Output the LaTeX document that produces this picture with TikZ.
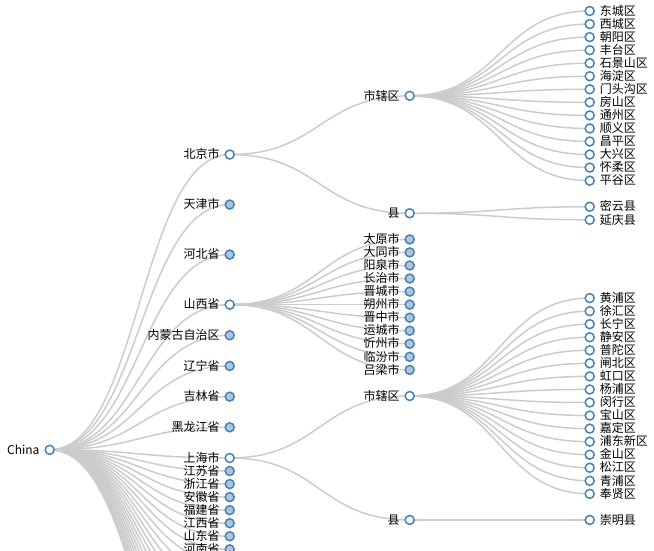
\documentclass[tikz,border=0pt]{standalone}
\usepackage{fontspec}
\setmainfont{Noto Sans CJK SC}
\usetikzlibrary{backgrounds,calc}
\definecolor{linkgray}{RGB}{204,204,204}
\definecolor{steel}{RGB}{70,130,180}
\definecolor{lsteel}{RGB}{176,196,222}
\newcommand\treelink[2]{\draw[link] let \p1=(#1.center), \p2=(#2.center) in (\p1) .. controls ({(\x1+\x2)/2},\y1) and ({(\x1+\x2)/2},\y2) .. (\p2);}
% #1 name, #2 style, #3 x, #4 y-index, #5 text
\newcommand\leftnode[5]{\node[#2] (#1) at (#3,{11+(#4)*13.05}) {};
  \node[lbltext,anchor=base east] (t#1) at ($(#1.center)+(-10,4.2)$) {#5};}
\newcommand\rightnode[5]{\node[#2] (#1) at (#3,{11+(#4)*13.05}) {};
  \node[lbltext,anchor=base west] (t#1) at ($(#1.center)+(10,4.2)$) {#5};}
\begin{document}
\begin{tikzpicture}[x=1pt,y=-1pt,
  link/.style={draw=linkgray,line width=1.5pt},
  tnode/.style={circle,draw=steel,line width=1.5pt,minimum size=9pt,inner sep=0pt,fill=white},
  tcol/.style={tnode,fill=lsteel},
  lbltext/.style={font=\fontsize{12}{14}\selectfont,inner sep=0pt,text=black}]
\useasboundingbox (0,0) rectangle (654,551);
\clip (0,0) rectangle (654,551);
% root
\leftnode{root}{tnode}{49.7}{33.625}{China}
% level 1
\leftnode{p1}{tnode}{229.7}{11}{北京市}
\leftnode{p2}{tcol}{229.7}{14.8333}{天津市}
\leftnode{p3}{tcol}{229.7}{18.6667}{河北省}
\leftnode{p4}{tnode}{229.7}{22.5}{山西省}
\leftnode{p5}{tcol}{229.7}{24.85}{内蒙古自治区}
\leftnode{p6}{tcol}{229.7}{27.2}{辽宁省}
\leftnode{p7}{tcol}{229.7}{29.55}{吉林省}
\leftnode{p8}{tcol}{229.7}{31.9}{黑龙江省}
\leftnode{p9}{tnode}{229.7}{34.25}{上海市}
\foreach \t [count=\i from 1] in {江苏省,浙江省,安徽省,福建省,江西省,山东省,河南省}
  {\leftnode{q\i}{tcol}{229.7}{34.25+\i}{\t}}
\foreach \i in {8,...,22}
  {\coordinate (q\i) at (229.7,{11+(34.25+\i)*13.05});}
% level 2
\leftnode{bj1}{tnode}{409.7}{6.5}{市辖区}
\leftnode{bj2}{tnode}{409.7}{15.5}{县}
\foreach \t [count=\i from 0] in {太原市,大同市,阳泉市,长治市,晋城市,朔州市,晋中市,运城市,忻州市,临汾市,吕梁市}
  {\leftnode{sx\i}{tcol}{409.7}{17.5+\i}{\t}}
\leftnode{sh1}{tnode}{409.7}{29.5}{市辖区}
\leftnode{sh2}{tnode}{409.7}{39}{县}
% level 3
\foreach \t [count=\i from 0] in {东城区,西城区,朝阳区,丰台区,石景山区,海淀区,门头沟区,房山区,通州区,顺义区,昌平区,大兴区,怀柔区,平谷区}
  {\rightnode{bja\i}{tnode}{589.7}{\i}{\t}}
\foreach \t [count=\i from 0] in {密云县,延庆县}
  {\rightnode{bjb\i}{tnode}{589.7}{15+\i}{\t}}
\foreach \t [count=\i from 0] in {黄浦区,徐汇区,长宁区,静安区,普陀区,闸北区,虹口区,杨浦区,闵行区,宝山区,嘉定区,浦东新区,金山区,松江区,青浦区,奉贤区}
  {\rightnode{sha\i}{tnode}{589.7}{22+\i}{\t}}
\rightnode{shb0}{tnode}{589.7}{39}{崇明县}
% links
\begin{scope}[on background layer]
\foreach \pv in {p1,p2,p3,p4,p5,p6,p7,p8,p9} {\treelink{root}{\pv}}
\foreach \i in {1,...,22} {\treelink{root}{q\i}}
\treelink{p1}{bj1}
\treelink{p1}{bj2}
\foreach \i in {0,...,10} {\treelink{p4}{sx\i}}
\treelink{p9}{sh1}
\treelink{p9}{sh2}
\foreach \i in {0,...,13} {\treelink{bj1}{bja\i}}
\foreach \i in {0,1} {\treelink{bj2}{bjb\i}}
\foreach \i in {0,...,15} {\treelink{sh1}{sha\i}}
\treelink{sh2}{shb0}
\end{scope}
\end{tikzpicture}
\end{document}
